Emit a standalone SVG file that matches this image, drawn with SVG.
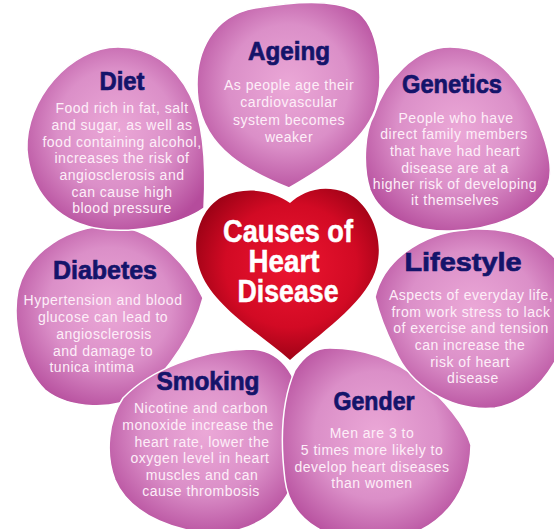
<svg xmlns="http://www.w3.org/2000/svg" width="554" height="529" viewBox="0 0 554 529">
<defs>
<radialGradient id="pink" cx="50%" cy="45%" r="60%">
<stop offset="0%" stop-color="#eba8d7"/>
<stop offset="55%" stop-color="#db8fc8"/>
<stop offset="100%" stop-color="#b54c9c"/>
</radialGradient>
<radialGradient id="red" cx="52%" cy="45%" r="60%">
<stop offset="0%" stop-color="#ec1530"/>
<stop offset="60%" stop-color="#d20a24"/>
<stop offset="100%" stop-color="#920013"/>
</radialGradient>
<style>
.petal{fill:url(#pink);stroke:#ffffff;stroke-width:1.5}
.heart{fill:url(#red)}
.t{font-family:"Liberation Sans",Arial,sans-serif;font-weight:bold;font-size:26px;fill:#14146a;stroke:#14146a;stroke-width:0.7;text-anchor:middle}
.b{font-family:"Liberation Sans",Arial,sans-serif;font-size:14px;letter-spacing:0.5px;fill:#fdeef8;text-anchor:middle}
.h{font-family:"Liberation Sans",Arial,sans-serif;font-weight:bold;font-size:31px;fill:#ffffff;stroke:#ffffff;stroke-width:0.5;text-anchor:middle}
</style>
</defs>
<rect width="554" height="529" fill="#ffffff"/>

<g id="diabetes">
<path class="petal" d="M110,226 C150,226 185,260 203,298 C195,330 170,370 140,395 C115,410 70,410 45,390 C20,365 12,320 18,290 C28,250 70,226 110,226 Z"/>
<text class="t" x="105" y="279" textLength="104" lengthAdjust="spacingAndGlyphs">Diabetes</text>
<text class="b" x="103" y="305">Hypertension and blood</text>
<text class="b" x="103" y="322">glucose can lead to</text>
<text class="b" x="104" y="339">angiosclerosis</text>
<text class="b" x="103" y="356">and damage to</text>
<text class="b" x="92" y="372" fill="#ffffff">tunica intima</text>
</g>

<g id="smoking">
<path class="petal" d="M123,398 C150,370 200,350 250,349 C285,350 300,380 303,420 C305,470 290,520 230,532 C180,537 130,515 115,480 C105,455 108,420 123,398 Z"/>
<text class="t" x="208" y="390" textLength="103" lengthAdjust="spacingAndGlyphs">Smoking</text>
<text class="b" x="201" y="413">Nicotine and carbon</text>
<text class="b" x="198" y="430">monoxide increase the</text>
<text class="b" x="202" y="447">heart rate, lower the</text>
<text class="b" x="200" y="463">oxygen level in heart</text>
<text class="b" x="202" y="480">muscles and can</text>
<text class="b" x="201" y="496">cause thrombosis</text>
</g>

<g id="gender">
<path class="petal" d="M330,348 C365,348 395,360 420,380 C445,400 465,425 471,445 C470,490 445,530 390,540 C330,548 290,520 285,480 C280,440 282,400 295,370 C305,355 315,348 330,348 Z"/>
<text class="t" x="374" y="410" textLength="81" lengthAdjust="spacingAndGlyphs">Gender</text>
<text class="b" x="372" y="438">Men are 3 to</text>
<text class="b" x="372" y="455">5 times more likely to</text>
<text class="b" x="372" y="472">develop heart diseases</text>
<text class="b" x="372" y="488">than women</text>
</g>

<g id="lifestyle">
<path class="petal" d="M375,297 C385,255 430,230 475,229 C520,228 560,245 570,290 C575,340 545,400 495,408 C450,412 410,385 395,350 C385,330 378,310 375,297 Z"/>
<text class="t" x="463" y="271" textLength="117" lengthAdjust="spacingAndGlyphs">Lifestyle</text>
<text class="b" x="471" y="300">Aspects of everyday life,</text>
<text class="b" x="471" y="317">from work stress to lack</text>
<text class="b" x="471" y="333">of exercise and tension</text>
<text class="b" x="470" y="350">can increase the</text>
<text class="b" x="470" y="367">risk of heart</text>
<text class="b" x="473" y="383">disease</text>
</g>

<g id="genetics">
<path class="petal" d="M450,47 C490,47 515,75 530,105 C545,135 555,165 548,185 C535,215 490,230 450,231 C410,232 380,215 370,190 C362,165 365,130 374,115 C385,80 415,47 450,47 Z"/>
<text class="t" x="452" y="93" textLength="100" lengthAdjust="spacingAndGlyphs">Genetics</text>
<text class="b" x="456" y="123">People who have</text>
<text class="b" x="454" y="139">direct family members</text>
<text class="b" x="455" y="156">that have had heart</text>
<text class="b" x="455" y="173">disease are at a</text>
<text class="b" x="455" y="189">higher risk of developing</text>
<text class="b" x="455" y="205">it themselves</text>
</g>

<g id="ageing">
<path class="petal" d="M289,188 C250,172 205,150 198,100 C192,50 215,15 255,8 C290,2 330,-2 355,10 C380,25 385,80 375,110 C362,145 320,170 289,188 Z"/>
<text class="t" x="289" y="60" textLength="82" lengthAdjust="spacingAndGlyphs">Ageing</text>
<text class="b" x="289" y="90">As people age their</text>
<text class="b" x="289" y="107">cardiovascular</text>
<text class="b" x="289" y="125">system becomes</text>
<text class="b" x="289" y="142">weaker</text>
</g>

<g id="diet">
<path class="petal" d="M118,47 C150,47 175,65 190,95 C205,125 206,170 204,208 C180,225 130,235 95,228 C55,220 30,190 27,150 C25,100 70,47 118,47 Z"/>
<text class="t" x="122" y="90" textLength="45" lengthAdjust="spacingAndGlyphs">Diet</text>
<text class="b" x="122" y="113">Food rich in fat, salt</text>
<text class="b" x="122" y="130">and sugar, as well as</text>
<text class="b" x="122" y="147">food containing alcohol,</text>
<text class="b" x="122" y="163">increases the risk of</text>
<text class="b" x="122" y="180">angiosclerosis and</text>
<text class="b" x="122" y="197">can cause high</text>
<text class="b" x="122" y="213">blood pressure</text>
</g>

<g id="center">
<path class="heart" d="M290,203 C272,190 245,186 222,197 C198,210 190,245 201,273 C215,308 262,335 290,360 C318,335 363,305 375,272 C386,242 372,205 347,193 C322,183 302,192 290,203 Z"/>
<text class="h" x="288" y="242" textLength="130" lengthAdjust="spacingAndGlyphs">Causes of</text>
<text class="h" x="284" y="272" textLength="71" lengthAdjust="spacingAndGlyphs">Heart</text>
<text class="h" x="288" y="302" textLength="101" lengthAdjust="spacingAndGlyphs">Disease</text>
</g>
</svg>
